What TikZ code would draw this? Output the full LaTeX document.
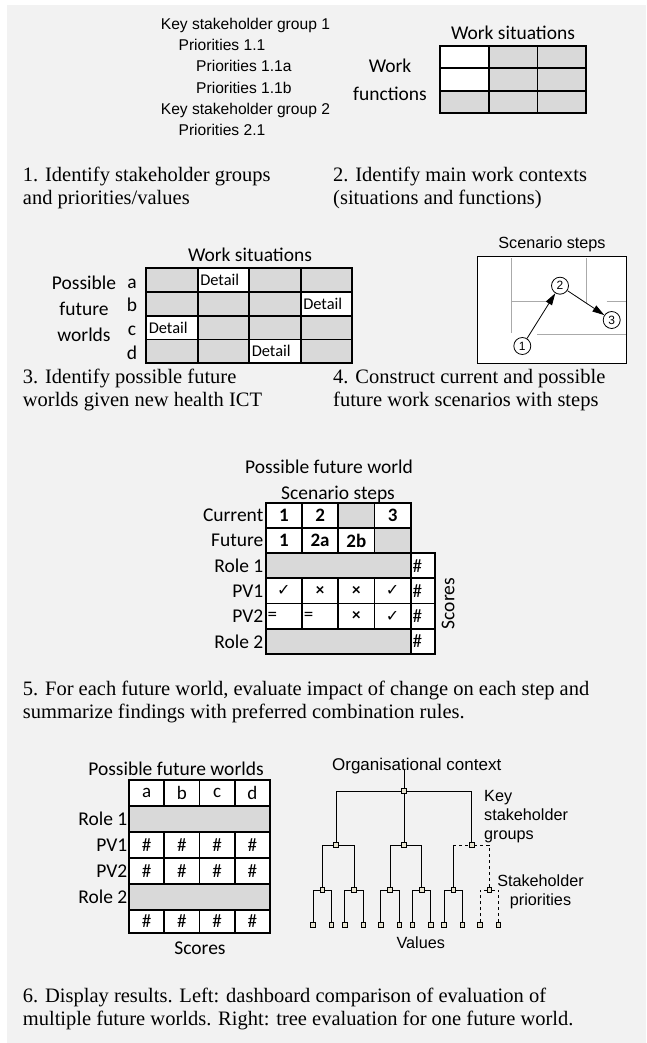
\documentclass[tikz,border=0pt]{standalone}
\usepackage{fontspec}
\setmainfont{Liberation Serif}
\newfontfamily\arialfont{Liberation Sans}
\newfontfamily\califont{Carlito}
\newfontfamily\dejafont{DejaVu Sans}
\usetikzlibrary{arrows.meta, calc, positioning}

\definecolor{panel}{RGB}{242,242,242}
\definecolor{cellgray}{RGB}{217,217,217}
\definecolor{treefill}{RGB}{232,228,208}
\definecolor{laneline}{RGB}{170,170,170}

\tikzset{
  caption/.style={font=\fontsize{20.5}{23.5}\selectfont, align=left, anchor=base west, inner sep=0pt},
  sans/.style={font=\arialfont\fontsize{15.6}{18}\selectfont, anchor=base west, inner sep=0pt},
  tsans/.style={font=\arialfont\fontsize{16.2}{19}\selectfont, inner sep=0pt},
  cal/.style={font=\califont\fontsize{19.5}{22}\selectfont, inner sep=0pt},
  cell/.style={draw, line width=1.8pt, fill=white, inner sep=0pt, outer sep=0pt, anchor=north west,
    font=\califont\fontsize{19}{22}\selectfont},
  gcell/.style={cell, fill=cellgray},
  detail/.style={cell, minimum height=23.8pt, text width=46.5pt, inner xsep=2.5pt, align=left,
    font=\califont\fontsize{16.4}{18}\selectfont},
  lcell/.style={cell, text width=#1, inner xsep=2pt, align=left},
  stepnode/.style={circle, draw, line width=0.8pt, fill=white, minimum size=17pt, inner sep=0pt,
    font=\arialfont\fontsize{12}{12}\selectfont},
  steparrow/.style={line width=0.8pt, -{Triangle[length=12pt, width=7pt]}},
  lane/.style={laneline, line width=0.9pt},
  tnode/.style={draw, line width=0.7pt, fill=treefill, minimum size=4.6pt, inner sep=0pt},
  tline/.style={line width=0.9pt},
  chk/.style={font=\dejafont\fontsize{16}{16}\selectfont},
  crs/.style={font=\califont\bfseries\fontsize{17}{17}\selectfont}
}

\begin{document}
\begin{tikzpicture}[x=1pt, y=-1pt]
  \useasboundingbox (0,0) rectangle (646,1043);
  \fill[panel] (7,5) rectangle (646,1043);

  % 1. stakeholder groups
  \node[sans] (ksg1) at (160.7,29.5) {Key stakeholder group 1};
  \node[sans] (pri11) at (178.4,50.7) {Priorities 1.1};
  \node[sans] (pri11a) at (196,71.9) {Priorities 1.1a};
  \node[sans] (pri11b) at (196,93.1) {Priorities 1.1b};
  \node[sans] (ksg2) at (160.7,114.3) {Key stakeholder group 2};
  \node[sans] (pri21) at (178.4,135.5) {Priorities 2.1};
  \node[caption] (cap1) at (22.7,204.5) {1. Identify stakeholder groups\\and priorities/values};

  % 2. work contexts
  \node[cal, anchor=base] (wsit2) at (513,39.3) {Work situations};
  \node[cal, anchor=base] (wfun1) at (390,72.3) {Work};
  \node[cal, anchor=base] (wfun2) at (390,100.3) {functions};
  \foreach \r/\c/\f in {0/0/white,0/1/cellgray,0/2/cellgray,1/0/white,1/1/cellgray,1/2/cellgray,2/0/cellgray,2/1/cellgray,2/2/cellgray}
    \node[cell, fill=\f, minimum width=48.7pt, minimum height=22.5pt] (wc\r\c) at ({440+48.7*\c},{45.7+22.5*\r}) {};
  \node[caption] (cap2) at (333,204.5) {2. Identify main work contexts\\(situations and functions)};

  % 3. future worlds
  \node[cal, anchor=base] (wsit3) at (250,261.3) {Work situations};
  \node[cal, anchor=base] (pfw1) at (84,289) {Possible};
  \node[cal, anchor=base] (pfw2) at (84,315) {future};
  \node[cal, anchor=base] (pfw3) at (84,341) {worlds};
  \foreach \l [count=\i from 0] in {a,b,c,d}
    \node[cal, anchor=base] (fw\l) at (132,{288+23.8*\i}) {\l};
  \foreach \r in {0,...,3}
    \foreach \c in {0,...,3}
      \node[gcell, minimum width=51.5pt, minimum height=23.8pt] (fc\r\c) at ({146.3+51.5*\c},{268+23.8*\r}) {};
  \foreach \r/\c in {0/1,1/3,2/0,3/2}
    \node[detail] (dt\r\c) at ({146.3+51.5*\c},{268+23.8*\r}) {Detail};
  \node[caption] (cap3) at (22.7,406.5) {3. Identify possible future\\worlds given new health ICT};

  % 4. scenario steps
  \node[tsans, anchor=base] (scst) at (552,248) {Scenario steps};
  \node[draw, line width=1.1pt, fill=white, anchor=north west, outer sep=0pt, inner sep=0pt,
    minimum width=149.4pt, minimum height=106.6pt] (scbox) at (477.3,256.7) {};
  \draw[lane] (511.7,258) -- (511.7,333.3) (511.7,301) -- (550,301)
    (586.7,258) -- (586.7,303.3) (606.7,301) -- (626,301) (537.3,334.3) -- (626,334.3);
  \node[stepnode] (s1) at (522.3,346) {1};
  \node[stepnode] (s2) at (560,285.7) {2};
  \node[stepnode] (s3) at (611.7,320) {3};
  \draw[steparrow] (s1) -- (s2);
  \draw[steparrow] (s2) -- (s3);
  \node[caption] (cap4) at (333,406.5) {4. Construct current and possible\\future work scenarios with steps};

  % 5. evaluation of one future world
  \node[cal, anchor=base] (pfw) at (329,473.5) {Possible future world};
  \node[cal, anchor=base] (sst) at (338,499) {Scenario steps};
  \foreach \t [count=\i from 0] in {Current,Future,Role 1,PV1,PV2,Role 2}
    \node[cal, anchor=east] (rl\i) at (263.5,{515.3+25.2*\i}) {\t};
  \foreach \c/\t/\f in {0/1/white,1/2/white,2/{}/cellgray,3/3/white}
    \node[cell, fill=\f, minimum width=36.25pt, minimum height=25.2pt, font=\califont\bfseries\fontsize{19}{22}\selectfont] (cur\c) at ({265.7+36.25*\c},502.7) {\t};
  \foreach \c/\t/\f in {0/1/white,1/2a/white,2/2b/white,3/{}/cellgray}
    \node[cell, fill=\f, minimum width=36.25pt, minimum height=25.2pt, font=\califont\bfseries\fontsize{19}{22}\selectfont] (fut\c) at ({265.7+36.25*\c},527.9) {\t};
  \node[gcell, minimum width=145pt, minimum height=25.2pt] (role1) at (265.7,553.1) {};
  \node[cell, chk, minimum width=36.25pt, minimum height=25.2pt] (pva0) at (265.7,578.3) {✓};
  \node[cell, crs, minimum width=36.25pt, minimum height=25.2pt] (pva1) at (301.95,578.3) {×};
  \node[cell, crs, minimum width=36.25pt, minimum height=25.2pt] (pva2) at (338.2,578.3) {×};
  \node[cell, chk, minimum width=36.25pt, minimum height=25.2pt] (pva3) at (374.45,578.3) {✓};
  \node[lcell=32.25pt, minimum height=25.2pt] (pvb0) at (265.7,603.5) {=};
  \node[lcell=32.25pt, minimum height=25.2pt] (pvb1) at (301.95,603.5) {=};
  \node[cell, crs, minimum width=36.25pt, minimum height=25.2pt] (pvb2) at (338.2,603.5) {×};
  \node[cell, chk, minimum width=36.25pt, minimum height=25.2pt] (pvb3) at (374.45,603.5) {✓};
  \node[gcell, minimum width=145pt, minimum height=25.2pt] (role2) at (265.7,628.7) {};
  \foreach \r in {0,...,3}
    \node[lcell=20.3pt, minimum height=25.2pt] (sc\r) at (410.7,{553.1+25.2*\r}) {\#};
  \node[cal, rotate=90] (scores5) at (448,603.5) {Scores};
  \node[caption] (cap5) at (22.7,718.5) {5. For each future world, evaluate impact of change on each step and\\summarize findings with preferred combination rules.};

  % 6. dashboard
  \node[cal, anchor=base] (pfws) at (176,775) {Possible future worlds};
  \foreach \t [count=\i from 0] in {a,b,c,d}
    \node[cell, minimum width=35.25pt, minimum height=26pt] (h\t) at ({129+35.25*\i},780) {\t};
  \node[gcell, minimum width=141pt, minimum height=26pt] (drole1) at (129,806) {};
  \foreach \i in {0,...,3} {
    \node[cell, minimum width=35.25pt, minimum height=26pt] (da\i) at ({129+35.25*\i},832) {\#};
    \node[cell, minimum width=35.25pt, minimum height=26pt] (db\i) at ({129+35.25*\i},858) {\#};
    \node[cell, minimum width=35.25pt, minimum height=22.7pt] (ds\i) at ({129+35.25*\i},910) {\#};
  }
  \node[gcell, minimum width=141pt, minimum height=26pt] (drole2) at (129,884) {};
  \foreach \t/\y in {Role 1/819,PV1/845,PV2/871,Role 2/897}
    \node[cal, anchor=east] (dl\y) at (127.5,\y) {\t};
  \node[cal] (scores6) at (200,948) {Scores};

  % tree
  \node[tsans, anchor=base, font=\arialfont\fontsize{17}{19}\selectfont] (orgc) at (416.7,770) {Organisational context};
  \node[tnode] (troot) at (404,791) {};
  \node[tnode] (tg1) at (336,845) {};
  \node[tnode] (tg2) at (404,845) {};
  \node[tnode] (tg3) at (471.7,845) {};
  \foreach \x [count=\i] in {322.3,354,390,421.7,453.3,489.3} {
    \node[tnode] (tp\i) at (\x,890) {};
    \node[tnode] (tp\i-l) at ({\x-9.2},925) {};
    \node[tnode] (tp\i-r) at ({\x+9.2},925) {};
  }
  \draw[tline] (troot) -- (troot |- orgc.base);
  \draw[tline] (tg1) |- (troot) -| (tg3);
  \draw[tline] (troot) -- (tg2);
  \draw[tline] (tp1) |- (tg1) -| (tp2);
  \draw[tline] (tp3) |- (tg2) -| (tp4);
  \draw[tline] (tp5) -- (tp5 |- tg3);
  \draw[tline, dashed] (tp5 |- tg3) -- (tg3) -| (tp6);
  \foreach \i in {1,...,5}
    \draw[tline] (tp\i-l) |- (tp\i) -| (tp\i-r);
  \draw[tline, dashed] (tp6-l) |- (tp6) -| (tp6-r);
  \node[tsans, align=left, anchor=base west] (keygrp) at (484,839) {Key\\stakeholder\\groups};
  \node[tsans, align=center, anchor=base] (shprio) at (540.5,905) {Stakeholder\\priorities};
  \node[tsans] (values) at (420.7,943) {Values};
  \node[caption] (cap6) at (22.7,1025.5) {6. Display results. Left: dashboard comparison of evaluation of\\multiple future worlds. Right: tree evaluation for one future world.};
\end{tikzpicture}
\end{document}
